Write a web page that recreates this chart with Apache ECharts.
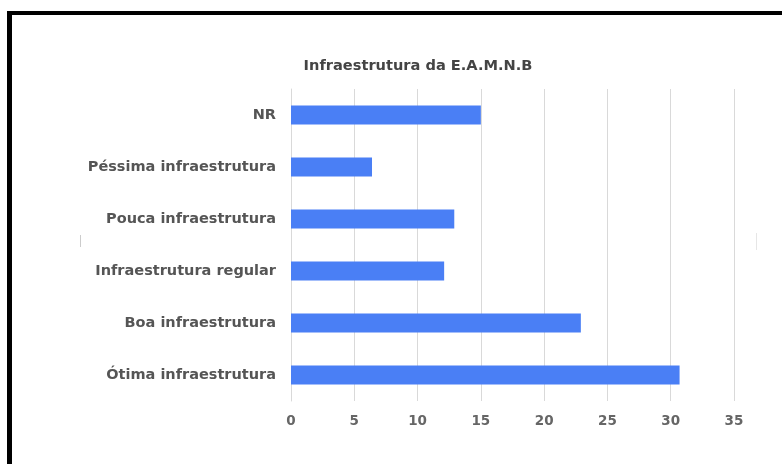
<!DOCTYPE html>
<html><head><meta charset="utf-8">
<script src="https://cdn.jsdelivr.net/npm/echarts@6/dist/echarts.min.js"></script>
<style>html,body{margin:0;padding:0;background:#fff}#c{width:782px;height:464px}</style>
</head><body><div id="c"></div>
<script>
const categories = ['Ótima infraestrutura','Boa infraestrutura','Infraestrutura regular','Pouca infraestrutura','Péssima infraestrutura','NR'];
const values = [30.7, 22.9, 12.1, 12.9, 6.4, 15.0];
const titleText = 'Infraestrutura da E.A.M.N.B';

const FONT = 'DejaVu Sans';
const chart = echarts.init(document.getElementById('c'));
chart.setOption({
  animation: false,
  backgroundColor: '#fff',
  title: {text: titleText, left: 413, top: 54, textAlign: 'center',
    textStyle: {fontFamily: FONT, fontWeight: 'bold', fontSize: 14.6, color: '#444'}},
  grid: {left: 291, right: 48, top: 89, bottom: 63},
  xAxis: {type: 'value', min: 0, max: 35, interval: 5,
    axisLine: {show: false}, axisTick: {show: false},
    splitLine: {lineStyle: {color: '#d9d9d9', width: 1}},
    axisLabel: {fontFamily: FONT, fontWeight: 'bold', fontSize: 13.5, color: '#666', margin: 13}},
  yAxis: {type: 'category', data: categories,
    axisLine: {show: true, lineStyle: {color: '#d9d9d9'}}, axisTick: {show: false},
    axisLabel: {fontFamily: FONT, fontWeight: 'bold', fontSize: 14.5, color: '#555', margin: 15}},
  series: [{type: 'bar', data: values, barWidth: 19, itemStyle: {color: '#4a7ff5'}}],
  graphic: [
    {type: 'rect', shape: {x: 7, y: 13, width: 5, height: 460}, style: {fill: '#000'}},
    {type: 'rect', shape: {x: 7, y: 11, width: 780, height: 4}, style: {fill: '#000'}},
    {type: 'line', shape: {x1: 80.5, y1: 235, x2: 80.5, y2: 247}, style: {stroke: '#ccc', lineWidth: 1}},
    {type: 'line', shape: {x1: 756.5, y1: 233, x2: 756.5, y2: 250}, style: {stroke: '#e6e6e6', lineWidth: 1}}
  ]
});
</script></body></html>
